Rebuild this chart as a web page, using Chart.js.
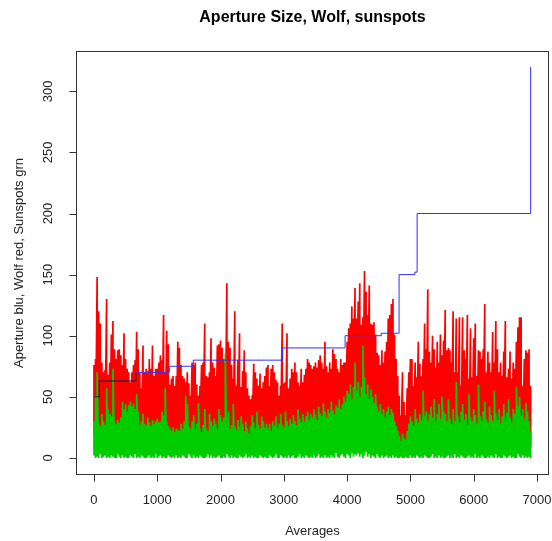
<!DOCTYPE html>
<html>
<head>
<meta charset="utf-8">
<script src="https://cdn.jsdelivr.net/npm/chart.js@4"></script>
<style>
  html, body { margin: 0; padding: 0; background: #fff; }
  #chart { width: 552px; height: 541px; }
</style>
</head>
<body>
<div id="chart"><canvas id="c" width="552" height="541"></canvas></div>
<script>
// Each bin covers BIN averages; the plot is a dense R line, so every bin
// keeps the top and bottom of the trace.
const BIN = 25;

const wolfHigh = [
  76, 81, 148, 120, 110, 78, 70, 72, 130, 68, 78, 101, 112, 89, 81, 88, 89, 84, 76, 102,
  81, 73, 70, 62, 70, 76, 80, 103, 89, 70, 57, 92, 70, 73, 71, 81, 73, 92, 67, 73,
  73, 78, 84, 80, 117, 70, 104, 93, 60, 65, 67, 59, 67, 95,
  90, 76, 67, 65, 62, 70, 61, 51, 78, 76, 78, 60, 51, 59, 76, 78, 110, 67, 66, 70,
  98, 78, 74, 67, 92, 93, 96, 90, 81, 78, 143, 95, 90, 76, 65, 120, 59, 80, 102, 58,
  71, 88, 70, 57, 51, 48, 51, 77, 70, 65, 59, 69, 57, 62, 67, 74,
  76, 59, 73, 76, 70, 64, 62, 51, 59, 110, 61, 62, 102, 57, 65, 73, 70, 78, 70, 62,
  59, 73, 62, 68, 73, 81, 78, 76, 73, 75, 78, 74, 80, 84, 78, 73, 95, 75, 70, 78,
  73, 89, 85, 81, 73, 70, 81, 76, 78, 78, 95, 106, 110, 124, 114, 139,
  114, 128, 143, 109, 115, 153, 136, 117, 141, 110, 109, 111, 101, 86, 84, 76, 88, 78, 87, 95,
  114, 117, 126, 130, 101, 81, 67, 51, 35, 70, 46, 35, 57, 70, 81, 81, 59, 78, 66, 95,
  77, 67, 81, 110, 89, 138, 87, 78, 100, 89, 74, 95, 78, 101, 84, 96,
  121, 88, 90, 88, 78, 120, 70, 114, 70, 115, 59, 115, 88, 81, 117, 65, 106, 66, 98, 110,
  67, 88, 87, 81, 89, 126, 70, 87, 78, 70, 103, 78, 112, 89, 70, 78, 67, 87, 112, 66,
  73, 87, 65, 78, 73, 95, 107, 115, 115, 59, 81, 88, 86, 89, 59
];

const wolfLow = [
  20, 15, 12, 18, 22, 14, 19, 25, 16, 21, 13, 18, 24, 17, 20, 12, 23, 19, 15, 21,
  17, 26, 20, 14, 18, 22, 16, 24, 19, 13, 17, 21, 15, 20, 18, 12, 16, 22, 19, 14,
  21, 17, 23, 15, 19, 25, 18, 14, 9, 12, 15, 10, 14, 17,
  15, 11, 18, 13, 20, 16, 12, 19, 14, 22, 17, 10, 15, 21, 13, 18, 16, 12, 20, 14,
  9, 17, 22, 15, 11, 19, 16, 13, 21, 18, 12, 15, 20, 14, 17, 11, 19, 16, 13, 22,
  15, 10, 18, 14, 12, 16, 20, 13, 17, 11, 19, 15, 14, 18, 12, 16,
  14, 18, 12, 16, 20, 13, 17, 11, 19, 15, 22, 14, 18, 12, 16, 21, 13, 19, 15, 17,
  24, 14, 20, 16, 18, 22, 15, 19, 21, 17, 14, 23, 18, 20, 16, 25, 19, 22, 17, 21,
  26, 18, 23, 20, 24, 28, 22, 26, 30, 25, 32, 28, 35, 30, 38, 33,
  36, 40, 32, 38, 45, 34, 30, 42, 35, 28, 33, 30, 26, 31, 24, 28, 22, 27, 20, 25,
  23, 19, 24, 21, 17, 14, 11, 9, 7, 10, 8, 6, 12, 15, 18, 14, 17, 20, 16, 13,
  19, 22, 17, 14, 21, 18, 15, 20, 23, 17, 14, 19, 22, 16, 20, 18,
  16, 21, 14, 18, 23, 15, 19, 13, 22, 17, 20, 14, 18, 24, 16, 12, 21, 19, 15, 22,
  17, 13, 20, 16, 24, 18, 14, 21, 17, 19, 15, 23, 12, 18, 20, 16, 22, 14, 19, 17,
  21, 13, 18, 23, 16, 20, 15, 22, 17, 14, 19, 21, 16, 12, 9
];

const spotHigh = [
  30, 51, 70, 28, 26, 36, 30, 27, 57, 40, 36, 34, 73, 30, 28, 31, 29, 33, 46, 40,
  44, 38, 43, 46, 42, 44, 40, 52, 38, 27, 30, 36, 28, 27, 33, 29, 26, 31, 28, 30,
  32, 29, 30, 38, 35, 57, 30, 26, 24, 22, 25, 21, 24, 23,
  22, 28, 24, 30, 51, 44, 26, 24, 30, 35, 22, 28, 45, 24, 21, 27, 40, 24, 22, 36,
  30, 26, 32, 28, 24, 40, 35, 30, 33, 85, 29, 38, 24, 27, 44, 26, 23, 31, 25, 34,
  28, 22, 30, 24, 20, 26, 35, 29, 24, 38, 27, 24, 34, 30, 25, 28,
  24, 28, 22, 30, 26, 34, 24, 28, 36, 27, 25, 38, 30, 26, 32, 28, 35, 30, 27, 40,
  32, 29, 36, 30, 34, 38, 31, 36, 33, 40, 35, 31, 42, 36, 34, 45, 38, 33, 40, 37,
  46, 39, 36, 43, 41, 48, 40, 44, 50, 46, 55, 52, 60, 48, 58, 78,
  55, 62, 50, 58, 92, 66, 52, 60, 48, 56, 50, 45, 52, 42, 38, 44, 36, 40, 33, 38,
  42, 35, 40, 37, 30, 26, 22, 18, 14, 20, 16, 15, 22, 28, 34, 30, 26, 40, 32, 29,
  36, 30, 55, 34, 38, 30, 36, 42, 33, 48, 30, 36, 44, 32, 50, 38,
  36, 30, 48, 32, 28, 40, 30, 62, 34, 29, 38, 44, 31, 36, 27, 52, 33, 30, 40, 35,
  28, 60, 34, 30, 38, 46, 32, 29, 42, 35, 30, 55, 36, 31, 40, 28, 34, 44, 30, 37,
  48, 33, 29, 40, 36, 58, 42, 50, 34, 40, 32, 45, 38, 30, 22
];

const spotLow = [
  2, 0, 1, 0, 3, 0, 1, 2, 0, 1, 0, 2, 1, 0, 0, 3, 1, 0, 2, 0,
  1, 0, 0, 2, 1, 0, 3, 0, 1, 0, 2, 1, 0, 0, 1, 2, 0, 1, 0, 3,
  0, 1, 2, 0, 1, 0, 0, 2, 1, 0, 1, 0, 2, 0,
  1, 0, 2, 1, 0, 0, 3, 1, 0, 2, 0, 1, 0, 2, 1, 0, 0, 1, 3, 0,
  2, 0, 1, 0, 1, 2, 0, 0, 1, 0, 3, 1, 0, 2, 0, 1, 0, 0, 2, 1,
  0, 1, 3, 0, 1, 0, 2, 0, 1, 0, 0, 2, 1, 0, 1, 0,
  0, 2, 1, 0, 1, 3, 0, 0, 2, 1, 0, 1, 0, 2, 0, 1, 2, 0, 0, 1,
  3, 0, 1, 0, 2, 1, 0, 1, 0, 2, 0, 1, 3, 0, 1, 0, 2, 0, 1, 0,
  2, 1, 0, 4, 1, 0, 2, 3, 1, 0, 3, 2, 0, 4, 1, 3,
  2, 4, 1, 3, 0, 2, 5, 1, 3, 0, 2, 1, 0, 3, 1, 0, 2, 0, 1, 2,
  0, 1, 0, 2, 0, 1, 0, 0, 1, 0, 0, 1, 0, 0, 2, 0, 1, 0, 2, 1,
  0, 1, 0, 2, 1, 0, 0, 1, 3, 0, 1, 0, 2, 0, 1, 0,
  0, 1, 2, 0, 1, 0, 3, 0, 1, 0, 2, 1, 0, 0, 1, 2, 0, 1, 0, 3,
  0, 1, 0, 2, 1, 0, 0, 1, 0, 2, 1, 0, 3, 0, 1, 0, 0, 2, 1, 0,
  1, 2, 0, 1, 0, 0, 3, 1, 0, 2, 0, 1, 0, 1, 0
];

// aperture steps: index where each level starts, and the level
const apertureStart = [0, 84, 663, 1190, 1569, 2981, 3968, 4540, 4821, 5070, 5106, 6900];
const apertureLevel = [50, 63, 70, 75, 80, 90, 100, 102, 150, 152, 200, 320];

const xTicks = [0, 1000, 2000, 3000, 4000, 5000, 6000, 7000];
const yTicks = [0, 50, 100, 150, 200, 250, 300];

const FONT = '"Liberation Sans", Arial, Helvetica, sans-serif';

// both ends of a bin share one x, so each bin is drawn as a vertical stroke
function binStrokes(first, second) {
  const pts = [];
  first.forEach((v, i) => {
    pts.push({ x: i * BIN, y: v });
    pts.push({ x: i * BIN, y: second[i] });
  });
  return pts;
}

const aperturePoints = apertureStart.map((x, i) => ({ x, y: apertureLevel[i] }));

// R style box, axes and labels
const rAxes = {
  id: 'rAxes',
  afterDraw(chart) {
    const { ctx, chartArea: a, scales: { x, y } } = chart;
    ctx.save();
    ctx.strokeStyle = '#333';
    ctx.lineWidth = 1;
    ctx.strokeRect(a.left + 0.5, a.top + 0.5, a.right - a.left - 1, a.bottom - a.top - 1);

    ctx.fillStyle = '#222';
    ctx.font = '13px ' + FONT;

    // x axis
    const bx = a.bottom - 0.5;
    ctx.beginPath();
    ctx.moveTo(Math.round(x.getPixelForValue(xTicks[0])) + 0.5, bx);
    ctx.lineTo(Math.round(x.getPixelForValue(xTicks[xTicks.length - 1])) + 0.5, bx);
    xTicks.forEach(v => {
      const px = Math.round(x.getPixelForValue(v)) + 0.5;
      ctx.moveTo(px, bx);
      ctx.lineTo(px, bx + 7);
    });
    ctx.stroke();
    ctx.textAlign = 'center';
    ctx.textBaseline = 'middle';
    xTicks.forEach(v => ctx.fillText(String(v), x.getPixelForValue(v), a.bottom + 25));

    // y axis
    const lx = a.left + 0.5;
    ctx.beginPath();
    ctx.moveTo(lx, Math.round(y.getPixelForValue(yTicks[0])) + 0.5);
    ctx.lineTo(lx, Math.round(y.getPixelForValue(yTicks[yTicks.length - 1])) + 0.5);
    yTicks.forEach(v => {
      const py = Math.round(y.getPixelForValue(v)) + 0.5;
      ctx.moveTo(lx, py);
      ctx.lineTo(lx - 7, py);
    });
    ctx.stroke();
    yTicks.forEach(v => {
      ctx.save();
      ctx.translate(a.left - 28, y.getPixelForValue(v));
      ctx.rotate(-Math.PI / 2);
      ctx.fillText(String(v), 0, 0);
      ctx.restore();
    });

    // titles
    const cx = (a.left + a.right) / 2;
    const cy = (a.top + a.bottom) / 2;
    ctx.fillStyle = '#000';
    ctx.font = 'bold 16px ' + FONT;
    ctx.fillText('Aperture Size, Wolf, sunspots', cx, 18);
    ctx.fillStyle = '#222';
    ctx.font = '13px ' + FONT;
    ctx.fillText('Averages', cx, 531);
    ctx.save();
    ctx.translate(19, cy);
    ctx.rotate(-Math.PI / 2);
    ctx.fillText('Aperture blu, Wolf red, Sunspots grn', 0, 0);
    ctx.restore();
    ctx.restore();
  }
};

new Chart(document.getElementById('c'), {
  type: 'line',
  data: {
    datasets: [
      {
        label: 'Aperture',
        data: aperturePoints,
        stepped: 'before',
        borderColor: '#3030ff',
        borderWidth: 1,
        pointRadius: 0,
        order: 0,
        segment: {
          borderColor: ctx => (ctx.p0.parsed.x < 663 ? '#15153a' : '#3030ff')
        }
      },
      {
        label: 'Sunspots',
        data: binStrokes(spotLow, spotHigh),
        borderColor: '#00cd00',
        borderWidth: 1.7,
        borderJoinStyle: 'bevel',
        pointRadius: 0,
        order: 1
      },
      {
        label: 'Wolf',
        data: binStrokes(wolfHigh, wolfLow),
        borderColor: '#ff0000',
        borderWidth: 1.7,
        borderJoinStyle: 'bevel',
        pointRadius: 0,
        order: 2
      }
    ]
  },
  options: {
    responsive: false,
    animation: false,
    layout: { padding: { left: 76, right: 3, top: 51, bottom: 66 } },
    scales: {
      x: { type: 'linear', min: -284, max: 7190, display: false },
      y: { type: 'linear', min: -14, max: 333, display: false }
    },
    plugins: {
      legend: { display: false },
      tooltip: { enabled: false }
    }
  },
  plugins: [rAxes]
});
</script>
</body>
</html>
